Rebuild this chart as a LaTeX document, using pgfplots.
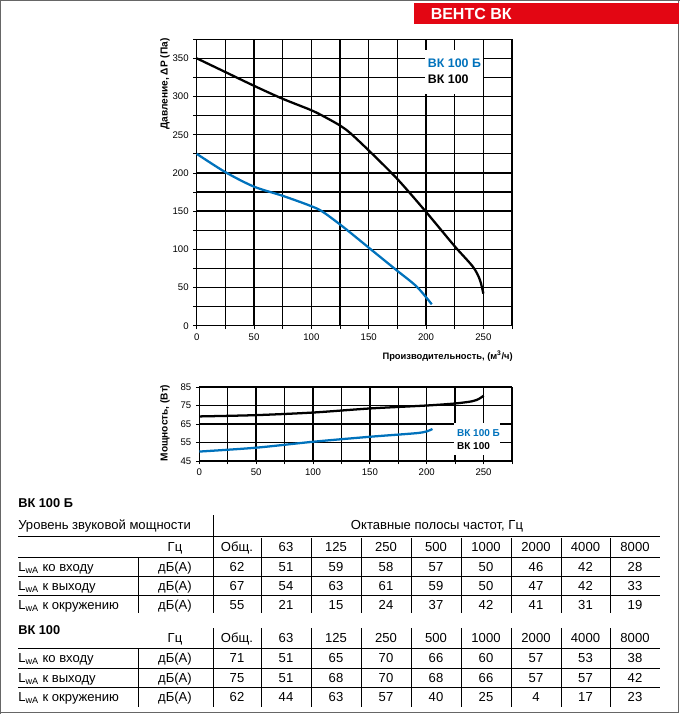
\documentclass[border=0pt]{standalone}
\usepackage{fontspec}
\setmainfont{Liberation Sans}
\usepackage{pgfplots}
\pgfplotsset{compat=1.18}
\definecolor{vblue}{RGB}{0,114,188}
\definecolor{vred}{RGB}{227,6,19}
\newcommand\trow[2]{\foreach \v [count=\i from 0] in {#2}{\pgfmathsetmacro\cx{{237,286,336,386,436,486,536,585.5,635}[\i]}\node[tb] at (\cx,#1) {\v};}}
\begin{document}
\begin{tikzpicture}[x=0.75pt,y=-0.75pt,
  tb/.style={anchor=base,inner sep=0pt,font=\fontsize{9.8}{11}\selectfont},
  tl/.style={anchor=base west,inner sep=0pt,font=\fontsize{9.8}{11}\selectfont}]
\path[use as bounding box] (0,0) rectangle (680,714);
% frame
\draw[line width=1.1pt, black!60] (0.75,714) -- (0.75,0.75) -- (680,0.75);
\draw[line width=1.1pt, black!60] (678.5,0) -- (678.5,712.5) -- (0,712.5);
\fill[vred] (414,3) rectangle (679,23.5);
\node[anchor=base west,inner sep=0pt,text=white,font=\fontsize{12}{14}\selectfont\bfseries] at (430.5,19) {ВЕНТС ВК};

% ===== main chart =====
\begin{axis}[
 at={(147.525pt,-244.275pt)}, anchor=south west,
 scale only axis, width=236.475pt, height=214.875pt,
 xmin=0, xmax=275, ymin=0, ymax=375,
 axis lines=left, axis line style={-, line width=1pt},
 xtick={0,50,...,250}, minor xtick={25,75,...,275},
 ytick={0,50,...,350}, minor ytick={25,75,...,375},
 grid=both, major grid style={black, line width=1pt}, minor grid style={black, line width=1pt},
 tick style={black, line width=0.6pt}, major tick length=2.5pt, minor tick length=2.5pt,
 tick align=outside,
 ticklabel style={font=\fontsize{7.2}{8}\selectfont},
 /pgf/number format/assume math mode=true,
 clip=false,
]
\addplot[black, line width=1.7pt, smooth] coordinates {
 (0,350) (25,332) (50,314) (75,297) (100,282) (112,273) (125,262) (134,252) (151,228) (175,192) (200,149) (225,104) (241,77) (247,60) (250,42)};
\addplot[vblue, line width=1.7pt, smooth] coordinates {
 (0,225) (25,201) (50,182) (75,170) (99,157) (110,149) (128,129) (151,101) (174,73) (192,51) (205,28)};
\fill[white] (axis cs:198.9,303) rectangle (axis cs:249.3,361);
\node[anchor=west,inner sep=0pt,text=vblue,font=\fontsize{9.3}{11}\selectfont\bfseries] at (axis cs:201.5,343.9) {ВК 100 Б};
\node[anchor=west,inner sep=0pt,text=black,font=\fontsize{9.3}{11}\selectfont\bfseries] at (axis cs:201.5,322.9) {ВК 100};
\end{axis}
\node[rotate=90,inner sep=0pt,font=\fontsize{7.6}{8}\selectfont\bfseries] at (165,84) {Давление, ΔP (Па)};
\node[anchor=east,inner sep=0pt,font=\fontsize{7}{8}\selectfont\bfseries] at (513,356) {Производительность, (м\textsuperscript{3}/ч)};

% ===== power chart =====
\begin{axis}[
 at={(149.475pt,-345.75pt)}, anchor=south west,
 scale only axis, width=234.525pt, height=55.5pt,
 xmin=0, xmax=275, ymin=45, ymax=85,
 axis lines=left, axis line style={-, line width=1pt},
 xtick={0,50,...,250}, minor xtick={25,75,...,275},
 ytick={45,55,...,85},
 grid=both, major grid style={black, line width=1pt}, minor grid style={black, line width=1pt},
 tick style={black, line width=0.6pt}, major tick length=2.5pt, minor tick length=2.5pt,
 tick align=outside,
 ticklabel style={font=\fontsize{7.2}{8}\selectfont},
 /pgf/number format/assume math mode=true,
 clip=false,
]
\addplot[black, line width=1.7pt, smooth] coordinates {
 (0,69.1) (50,69.8) (100,71.2) (150,73.4) (200,75.0) (225,76.1) (240,77.3) (246,78.6) (250,80.3)};
\addplot[vblue, line width=1.7pt, smooth] coordinates {
 (0,50.1) (50,52.2) (100,55.4) (150,58.1) (190,60.0) (200,61.0) (205,62.3)};
\fill[white] (axis cs:224.4,48.3) rectangle (axis cs:264.5,65.6);
\node[anchor=west,inner sep=0pt,text=vblue,font=\fontsize{7.5}{9}\selectfont\bfseries] at (axis cs:226.5,60.1) {ВК 100 Б};
\node[anchor=west,inner sep=0pt,text=black,font=\fontsize{7.5}{9}\selectfont\bfseries] at (axis cs:226.5,53.1) {ВК 100};
\end{axis}
\node[rotate=90,inner sep=0pt,font=\fontsize{7.6}{8}\selectfont\bfseries] at (165,423) {Мощность, (Вт)};

% ===== table 1 =====
\node[anchor=base west,inner sep=0pt,font=\fontsize{9.6}{11}\selectfont\bfseries] at (18,507.5) {ВК 100 Б};
\node[tl] at (18,529.5) {Уровень звуковой мощности};
\node[tb] at (437,529.5) {Октавные полосы частот, Гц};
\begin{scope}[line width=0.7pt]
\draw (18,536) -- (660,536);
\draw (18,557) -- (660,557);
\draw (18,576.5) -- (660,576.5);
\draw (18,595.5) -- (660,595.5);
\draw (213,515) -- (213,613);
\foreach \x in {261,311,361,411,461,511,561,610.5} \draw (\x,538) -- (\x,613);
\draw (138,558) -- (138,613);
\end{scope}
\node[tb] at (175,551.5) {Гц};
\trow{551.5}{Общ.,63,125,250,500,1000,2000,4000,8000}
\node[tl] at (18,571.5) {L\textsubscript{wA} ко входу};
\node[tb] at (175,571.5) {дБ(A)};
\trow{571.5}{62,51,59,58,57,50,46,42,28}
\node[tl] at (18,590.5) {L\textsubscript{wA} к выходу};
\node[tb] at (175,590.5) {дБ(A)};
\trow{590.5}{67,54,63,61,59,50,47,42,33}
\node[tl] at (18,609) {L\textsubscript{wA} к окружению};
\node[tb] at (175,609) {дБ(A)};
\trow{609}{55,21,15,24,37,42,41,31,19}

% ===== table 2 =====
\node[anchor=base west,inner sep=0pt,font=\fontsize{9.6}{11}\selectfont\bfseries] at (18,634) {ВК 100};
\begin{scope}[line width=0.7pt]
\draw (18,648) -- (660,648);
\draw (18,668) -- (660,668);
\draw (18,687.5) -- (660,687.5);
\foreach \x in {213,261,311,361,411,461,511,561,610.5} \draw (\x,628) -- (\x,707);
\draw (138,649) -- (138,707);
\end{scope}
\node[tb] at (175,642.5) {Гц};
\trow{642.5}{Общ.,63,125,250,500,1000,2000,4000,8000}
\node[tl] at (18,662.5) {L\textsubscript{wA} ко входу};
\node[tb] at (175,662.5) {дБ(A)};
\trow{662.5}{71,51,65,70,66,60,57,53,38}
\node[tl] at (18,682) {L\textsubscript{wA} к выходу};
\node[tb] at (175,682) {дБ(A)};
\trow{682}{75,51,68,70,68,66,57,57,42}
\node[tl] at (18,701.5) {L\textsubscript{wA} к окружению};
\node[tb] at (175,701.5) {дБ(A)};
\trow{701.5}{62,44,63,57,40,25,4,17,23}
\end{tikzpicture}
\end{document}
